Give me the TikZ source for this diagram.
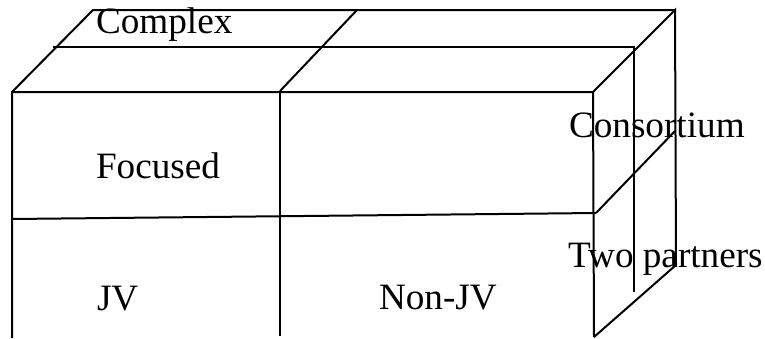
\documentclass[tikz,border=0pt]{standalone}
\usepackage{fontspec}
\setmainfont{Liberation Serif}
\begin{document}
\begin{tikzpicture}[x=0.5pt,y=-0.5pt,line width=1pt,
  lbl/.style={anchor=base west,inner sep=0pt,font=\fontsize{18.6}{22}\selectfont}]
\useasboundingbox (0,0) rectangle (765,338);
% front face corners
\coordinate (FTL) at (12,92);
\coordinate (FTM) at (280,91);
\coordinate (FTR) at (593,92);
\coordinate (FBL) at (12,338);
\coordinate (FBM) at (280,336);
\coordinate (FBR) at (594,337);
\coordinate (FML) at (12,219);
\coordinate (FMR) at (596,213);
% top face
\coordinate (BTL) at (93,10);
\coordinate (BTM) at (357,10);
\coordinate (BTR) at (675,10);
\coordinate (MTL) at (53,47);
\coordinate (MTR) at (634,47);
% right face
\coordinate (RMB) at (634,292);
\coordinate (BRB) at (676,265);
\coordinate (RMD) at (675,131);
% front face
\draw (FBL) -- (FTL) -- (FTR) -- (FBR);
\draw (FTM) -- (FBM);
\draw (FML) -- (FMR);
% top face
\draw (FTL) -- (BTL) -- (BTR);
\draw (FTM) -- (BTM);
\draw (FTR) -- (BTR) -- (BRB) -- (FBR);
\draw (MTL) -- (MTR) -- (RMB);
\draw (FMR) -- (RMD);
% labels
\node[lbl] (complex) at (95,33) {Complex};
\node[lbl] (focused) at (95,178) {Focused};
\node[lbl] (consortium) at (568,137) {Consortium};
\node[lbl] (two) at (567,267) {Two partners};
\node[lbl] (jv) at (96,310) {JV};
\node[lbl] (nonjv) at (378,309) {Non-JV};
\end{tikzpicture}
\end{document}
